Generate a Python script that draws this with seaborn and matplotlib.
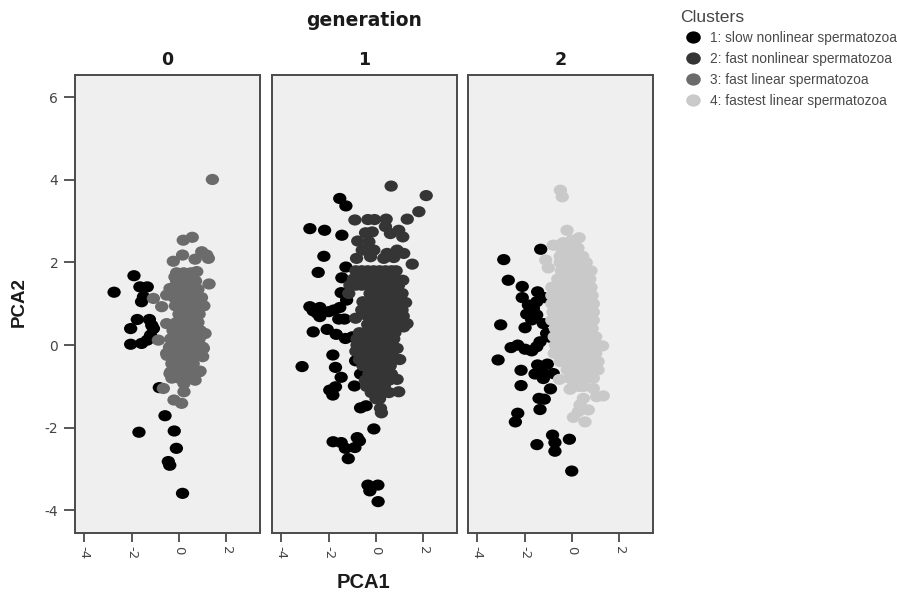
import matplotlib
matplotlib.use("Agg")
import matplotlib.pyplot as plt
from matplotlib.lines import Line2D
from matplotlib.path import Path
from matplotlib.transforms import Affine2D
import pandas as pd
import seaborn as sns

cluster_labels = ["1: slow nonlinear spermatozoa", "2: fast nonlinear spermatozoa",
                  "3: fast linear spermatozoa", "4: fastest linear spermatozoa"]
cluster_colors = ["#000000", "#353535", "#6b6b6b", "#c9c9c9"]
generations = ["0", "1", "2"]
x_ticks = [-4, -2, 0, 2]
y_ticks = [-4, -2, 0, 2, 4, 6]

gen0_slow = [(-2.74,1.28),(-1.90,1.68),(-1.65,1.41),(-1.34,1.41),(-1.58,1.05),(-1.5,1.17),(-1.76,.62),(-1.25,.62),
             (-2.04,.40),(-1.08,.40),(-1.2,.24),(-1.34,.12),(-1.58,.04),(-2.04,.02),(-1.15,.48),(-.83,-1.03),
             (-.59,-1.71),(-1.69,-2.11),(-.2,-2.08),(-.11,-2.5),(-.45,-2.82),(-.39,-2.91),(.15,-3.59)]
gen0_linear = [(1.41,4.01),(.56,2.61),(.18,2.54),(.96,2.26),(1.17,2.18),(.15,2.18),(-.24,2.03),(.68,2.08),(1.24,2.10),
               (.75,1.78),(1.27,1.48),(-1.08,1.13),(-.73,.93),(-.87,.12),(-.66,-1.05),(.21,-1.13),(-.21,-1.33),
               (.11,-1.41),(.21,-.93),(.68,-.85),(.89,-.63),(-.38,-.69),(1.1,.28),(1.03,-.08),(1.0,-.28),(-.52,-.2),
               (-.52,.52),(-.38,1.37),(-.52,1.21),(-.17,1.65)]
gen0_linear_rows = {1.75:[-.1,.2,.5], 1.55:[-.1,.15,.45,.7], 1.35:[-.1,.2,.5,.8], 1.15:[-.2,.1,.4,.7,.95],
                    .95:[-.15,.15,.45,.75,1.05], .75:[0,.3,.6,.85], .55:[-.1,.2,.5,.8], .35:[-.25,.05,.35,.65,.9],
                    .15:[-.35,-.05,.25,.55,.85], -.05:[-.4,-.1,.2,.5,.8,1.0], -.25:[-.5,-.2,.1,.4,.7,.95],
                    -.45:[-.3,0,.3,.6], -.65:[-.35,-.05,.25,.55,.85], -.8:[-.3,0,.3,.55]}

gen1_slow = [(-1.53,3.55),(-1.27,3.37),(-2.79,2.82),(-2.17,2.78),(-1.44,2.66),(-2.2,2.15),(-1.27,1.89),(-2.44,1.76),
             (-1.44,1.63),(-1.47,1.27),(-1.24,1.09),(-2.79,.93),(-2.65,.83),(-2.37,.91),(-2.37,.69),(-2.48,.77),
             (-1.99,.81),(-1.53,.91),(-1.78,.85),(-1.57,.63),(-1.33,.63),(-2.65,.32),(-2.06,.38),(-1.68,.26),
             (-1.29,.16),(-1.0,.2),(-1.82,-.24),(-3.12,-.52),(-1.71,-.54),(-.86,-.38),(-.65,-.7),(-1.47,-.78),
             (-1.71,-1.01),(-1.95,-1.09),(-1.82,-1.21),(-.91,-.99),(-.65,-1.52),(-.42,-1.47),(-.09,-2.03),
             (-1.81,-2.34),(-1.47,-2.36),(-.79,-2.24),(-.7,-2.32),(-.89,-2.48),(-1.29,-2.5),(-1.17,-2.75),
             (-.34,-3.39),(.08,-3.39),(-.26,-3.53),(.09,-3.79)]
gen1_nonlinear = [(.64,3.85),(2.12,3.62),(1.81,3.23),(1.32,3.05),(.43,3.05),(-.89,3.03),(-.34,3.04),(-.06,3.04),
                  (.4,2.87),(.96,2.78),(.61,2.7),(1.13,2.62),(-.44,2.72),(-.16,2.74),(-.77,2.52),(-.3,2.5),
                  (-.58,2.3),(-.09,2.3),(.47,2.22),(.89,2.3),(1.17,2.22),(-.82,2.1),(-.23,2.14),(.33,2.1),(.75,2.12),
                  (1.53,1.96),(-1.15,1.25),(-.86,.65),(.19,-1.53),(.23,-1.64),(.96,-1.13),(.89,-.83),(1.0,-.35),
                  (.89,-.08),(1.31,.52),(1.17,.44),(1.25,1.03),(1.1,1.25),(1.13,1.57)]
gen1_nonlinear_rows = {1.8:[-.85,-.6,-.35,-.1,.15,.4,.65,.85], 1.6:[-.95,-.7,-.45,-.2,.05,.3,.55,.8],
                       1.45:[-1.1,-.85,-.6,-.3,0,.25,.5,.75,.95], 1.25:[-.25,0,.25,.5,.75,1.0],
                       1.05:[-.55,-.3,-.05,.2,.45,.7,.95], .85:[-.6,-.35,-.1,.15,.4,.65,.9,1.1],
                       .7:[-.35,-.1,.15,.4,.65,.9,1.15], .5:[-.35,-.1,.15,.4,.65,.9,1.1],
                       .3:[-.7,-.45,-.2,.05,.3,.55,.8], .15:[-.8,-.5,-.25,0,.25,.5,.75],
                       0:[-.8,-.55,-.3,-.05,.2,.45,.7], -.15:[-.85,-.6,-.3,0,.25,.5,.7],
                       -.35:[-.7,-.45,-.2,.05,.3,.55,.75], -.5:[-.55,-.1,.15,.4,.6],
                       -.7:[-.3,-.05,.2,.45,.65], -.85:[-.45,-.2,.05,.3,.55],
                       -1.0:[-.4,-.15,.1,.35], -1.15:[-.2,.05,.3,.55], -1.3:[0,.15]}

gen2_slow = [(-1.32,2.32),(-2.88,2.07),(-2.69,1.57),(-2.1,1.42),(-1.45,1.29),(-1.17,1.15),(-2.1,1.15),(-1.84,.97),
             (-1.49,1.05),(-1.63,.89),(-1.91,.75),(-1.49,.73),(-1.7,.61),(-1.21,.52),(-1.98,.42),(-3.01,.49),
             (-1.07,.28),(-.93,.19),(-1.35,.08),(-1.49,-.04),(-1.7,-.14),(-1.98,-.1),(-2.29,0),(-2.57,-.06),
             (-3.12,-.36),(-1.45,-.48),(-1.04,-.46),(-2.15,-.61),(-1.56,-.7),(-1.25,-.65),(-.79,-.69),(-1.21,-.81),
             (-2.15,-.98),(-.91,-1.06),(-1.39,-1.29),(-1.17,-1.31),(-1.35,-1.56),(-2.29,-1.65),(-2.39,-1.86),
             (-.82,-2.18),(-.11,-2.28),(-1.48,-2.41),(-.72,-2.36),(-.72,-2.57),(-.01,-3.05)]
gen2_fastest = [(-.49,3.75),(-.41,3.59),(-.21,2.78),(.3,2.6),(-.01,2.54),(-.37,2.48),(-.79,2.42),(-1.11,2.06),
                (-1.0,1.87),(1.29,-.02),(.9,.6),(-.53,-.83),(-.08,-1.07),(.9,-1.05),(1.32,-1.23),(1.04,-1.25),
                (.48,-1.29),(.69,-1.57),(.34,-1.45),(.06,-1.75),(.55,-1.86),(.27,-1.61)]
gen2_fastest_rows = {2.35:[-.45,-.2,.05,.25], 2.15:[-.5,-.25,0,.25,.45], 2.0:[-.5,-.2,.05,.3,.6],
                     1.8:[-.45,-.2,.05,.3,.55,.8], 1.6:[-.6,-.3,-.05,.2,.45,.75], 1.4:[-.85,-.6,-.3,0,.25,.5,.8],
                     1.2:[-.85,-.55,-.3,-.05,.2,.45,.7,.85], 1.0:[-.85,-.6,-.3,-.05,.2,.45,.7,.9],
                     .8:[-.8,-.5,-.25,0,.25,.5,.75,.9], .6:[-.85,-.6,-.3,-.05,.2,.45,.7],
                     .4:[-.7,-.4,-.15,.1,.35,.6,.85], .2:[-.75,-.5,-.25,0,.25,.5,.75,1.0],
                     0:[-.7,-.45,-.2,.05,.3,.55,.8,1.05], -.2:[-.75,-.45,-.2,.05,.3,.55,.8,1.0],
                     -.4:[-.5,-.2,.05,.3,.55,.8,1.1], -.6:[-.2,.05,.3,.55,.8,1.1],
                     -.8:[-.1,.15,.4,.65,.9], -1.0:[.05,.3,.5]}


def table(points, rows, cluster, generation):
    pts = list(points) + [(x, y) for y, xs in rows.items() for x in xs]
    df = pd.DataFrame(pts, columns=["PCA1", "PCA2"])
    df["cluster"] = cluster
    df["generation"] = generation
    return df


data = pd.concat([
    table(gen0_slow, {}, cluster_labels[0], "0"),
    table(gen0_linear, gen0_linear_rows, cluster_labels[2], "0"),
    table(gen1_slow, {}, cluster_labels[0], "1"),
    table(gen1_nonlinear, gen1_nonlinear_rows, cluster_labels[1], "1"),
    table(gen2_slow, {}, cluster_labels[0], "2"),
    table(gen2_fastest, gen2_fastest_rows, cluster_labels[3], "2"),
], ignore_index=True)

sns.set_style("white")
W, H = 897, 596
fig = plt.figure(figsize=(W / 100, H / 100), dpi=100, facecolor="white")
lefts = [75, 272, 468]
width, top, bottom = 185, 75, 533
edge = "#4a4a4a"
palette = dict(zip(cluster_labels, cluster_colors))
ellipse = Path.unit_circle().transformed(Affine2D().scale(1, 0.84))
bold = dict(family="DejaVu Sans", fontweight="bold", color="#1a1a1a")
bold_label = dict(family="Liberation Sans", fontweight="bold", color="#1a1a1a")

for i, (gen, left) in enumerate(zip(generations, lefts)):
    ax = fig.add_axes([left / W, 1 - bottom / H, width / W, (bottom - top) / H], facecolor="#efefef")
    sns.scatterplot(data=data[data.generation == gen], x="PCA1", y="PCA2", hue="cluster",
                    palette=palette, s=92, marker=ellipse, linewidth=0, alpha=1, legend=False, ax=ax)
    ax.set_xlim(-4.39, 3.42)
    ax.set_ylim(-4.55, 6.54)
    ax.set_xlabel("")
    ax.set_ylabel("")
    ax.set_xticks(x_ticks)
    ax.set_xticklabels([str(v) for v in x_ticks], rotation=270, fontsize=9.5, color="#444444")
    ax.tick_params(axis="x", length=6.5, width=1.3, color=edge, pad=2.5, bottom=True)
    if i == 0:
        ax.set_yticks(y_ticks)
        ax.set_yticklabels([str(v) for v in y_ticks], fontsize=10, color="#444444")
        ax.tick_params(axis="y", length=8, width=1.3, color=edge, pad=4, left=True)
    else:
        ax.set_yticks([])
    for sp in ax.spines.values():
        sp.set_visible(True)
        sp.set_color(edge)
        sp.set_linewidth(1.4)
    ax.set_title(gen, fontsize=12.5, pad=7, **bold)

fig.text(364.5 / W, 1 - 20 / H, "generation", ha="center", va="center", fontsize=13.5, **bold)
fig.text(363 / W, 1 - 583 / H, "PCA1", ha="center", va="center", fontsize=14.5, **bold_label)
fig.text(19 / W, 1 - 302 / H, "PCA2", ha="center", va="center", rotation=90, fontsize=13.5, **bold_label)

handles = [Line2D([], [], linestyle="none", marker=ellipse, markersize=10.5, markerfacecolor=c, markeredgewidth=0)
           for c in cluster_colors]
fig.text(680 / W, 1 - 17 / H, "Clusters", ha="left", va="center", fontsize=12.6,
         family="Liberation Sans", color="#444444")
leg = fig.legend(handles, cluster_labels, loc="upper left", bbox_to_anchor=(678 / W, 1 - 31 / H),
                 frameon=False, borderpad=0, borderaxespad=0, handletextpad=0.15, handlelength=2.18,
                 labelspacing=0.5, prop={"family": "Liberation Sans", "size": 9.95})
for t in leg.get_texts():
    t.set_color("#4a4a4a")

fig.savefig("out.png", dpi=100)
